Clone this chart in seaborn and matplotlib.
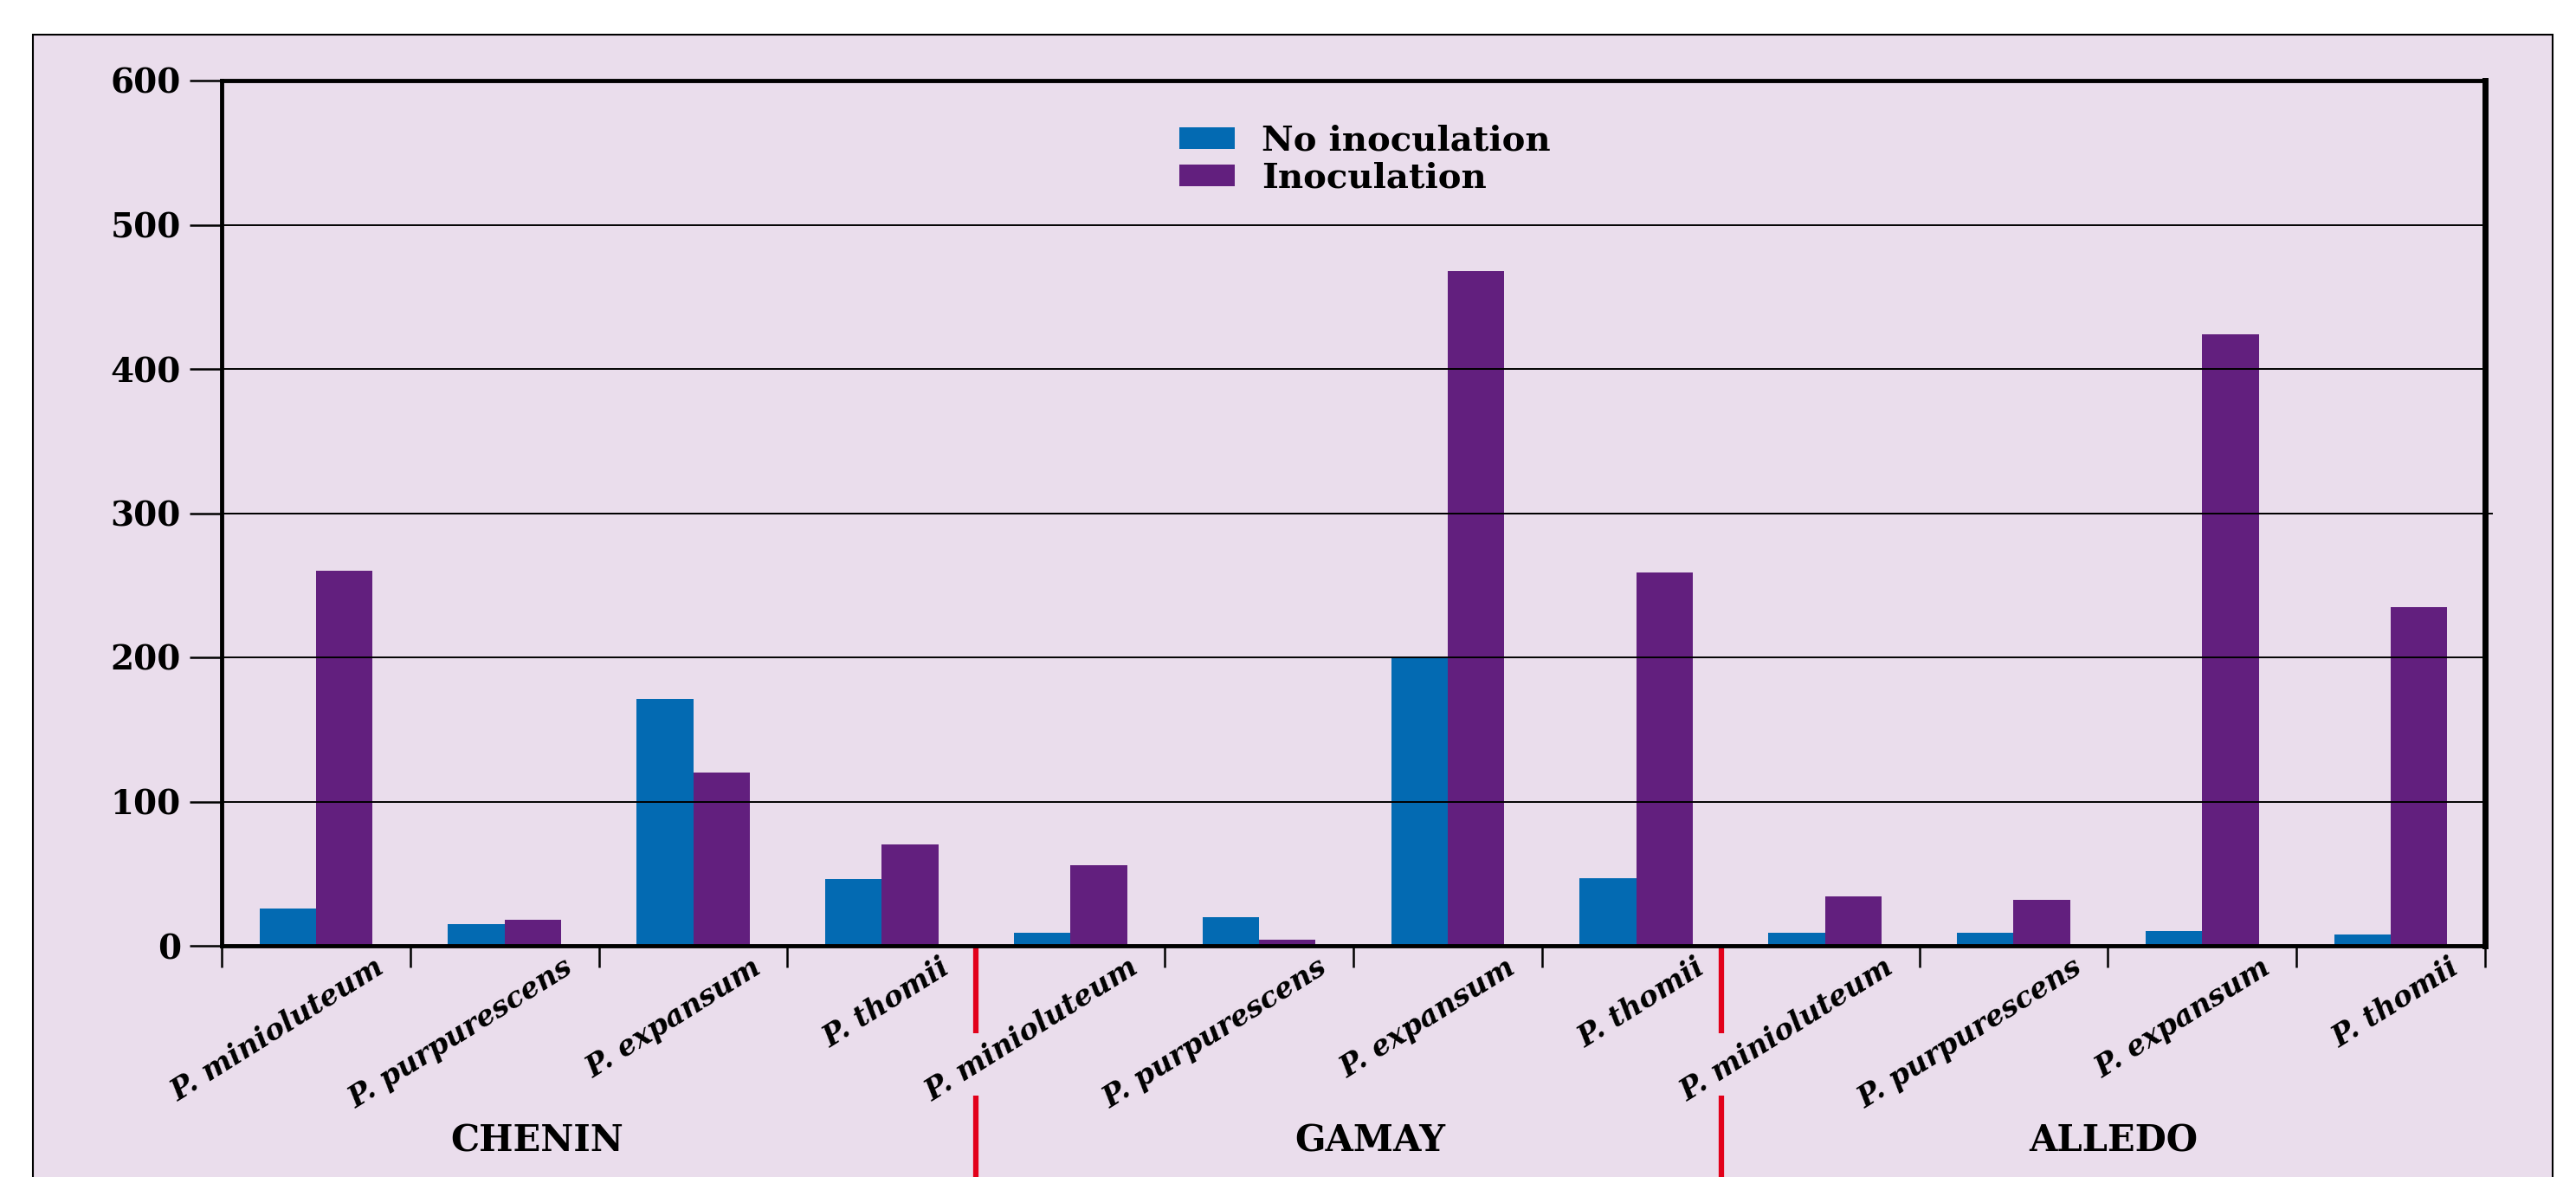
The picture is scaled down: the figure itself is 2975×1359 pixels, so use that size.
# Gráfico de barras: inoculação de Penicillium em três cultivares
import pandas as pd
import matplotlib.pyplot as plt
import seaborn as sns
from matplotlib.patches import Rectangle
from matplotlib.transforms import ScaledTranslation, blended_transform_factory

# --- dados ---
cultivares = ['CHENIN', 'GAMAY', 'ALLEDO']
especies = ['P. minioluteum', 'P. purpurescens', 'P. expansum', 'P. thomii']
tratamentos = ['No inoculation', 'Inoculation']
sem_inoculacao = [26, 15, 171, 46, 9, 20, 200, 47, 9, 9, 10, 8]
com_inoculacao = [260, 18, 120, 70, 56, 4, 468, 259, 34, 32, 424, 235]
yticks = [0, 100, 200, 300, 400, 500, 600]

cores = ['#036AB2', '#621F7E']
fundo = '#EADDEC'
vermelho = '#E2001A'
W, H = 2975, 1359

linhas = []
for g, cult in enumerate(cultivares):
    for s, esp in enumerate(especies):
        k = g * len(especies) + s
        chave = f'{cult}|{esp}'
        linhas.append((chave, cult, esp, tratamentos[0], sem_inoculacao[k]))
        linhas.append((chave, cult, esp, tratamentos[1], com_inoculacao[k]))
df = pd.DataFrame(linhas, columns=['chave', 'cultivar', 'especie', 'tratamento', 'valor'])
ordem = list(dict.fromkeys(df['chave']))
n = len(ordem)

plt.rcParams['font.family'] = ['DejaVu Serif']
plt.rcParams['font.weight'] = 'bold'

fig = plt.figure(figsize=(W / 100, H / 100), dpi=100)
fig.patch.set_facecolor('white')

# moldura externa lilás
moldura = Rectangle((38 / W, -0.02), (2948 - 38) / W, 1.02 - 40 / H,
                    transform=fig.transFigure, facecolor=fundo,
                    edgecolor='black', lw=1.5, zorder=0)
fig.add_artist(moldura)

ax = fig.add_axes([256 / W, 1 - 1092 / H, (2870 - 256) / W, (1092 - 93) / H])
ax.patch.set_alpha(0)

sns.barplot(data=df, x='chave', y='valor', hue='tratamento', order=ordem,
            hue_order=tratamentos, palette=cores, width=0.6, saturation=1,
            errorbar=None, linewidth=0, ax=ax)

ax.set_xlim(-0.5, n - 0.5)
ax.set_ylim(yticks[0], yticks[-1])
ax.set_xlabel('')
ax.set_ylabel('')

# linhas de grade por cima das barras
for v in yticks[1:-1]:
    ax.axhline(v, color='black', lw=1.4, zorder=3)
ax.axhline(300, xmin=0, xmax=1.003, color='black', lw=1.4, zorder=3, clip_on=False)

for lado in ['left', 'bottom', 'top']:
    ax.spines[lado].set_linewidth(3.5)
ax.spines['right'].set_linewidth(5)
for sp in ax.spines.values():
    sp.set_zorder(4)

# eixo y
ax.set_yticks(yticks)
ax.set_yticklabels([str(v) for v in yticks])
ax.tick_params(axis='y', length=27, width=1.8, pad=7, labelsize=28)

# eixo x: marcas nas divisas, rótulos nos centros
divisas = [i - 0.5 for i in range(n + 1) if i % len(especies) != 0 or i in (0, n)]
ax.set_xticks(divisas)
ax.set_xticklabels([''] * len(divisas))
ax.tick_params(axis='x', which='major', length=18, width=1.8)
ax.set_xticks(range(n), minor=True)
ax.set_xticklabels(especies * len(cultivares), minor=True)
ax.tick_params(axis='x', which='minor', length=0, labelsize=24, pad=0)
desloc = ScaledTranslation(0.76, -0.22, fig.dpi_scale_trans)
for lab in ax.get_xticklabels(minor=True):
    lab.set_rotation(32)
    lab.set_ha('right')
    lab.set_va('center')
    lab.set_rotation_mode('anchor')
    lab.set_fontstyle('italic')
    lab.set_fontweight('bold')
    lab.set_transform(lab.get_transform() + desloc)

# separadores vermelhos entre cultivares
trans = blended_transform_factory(ax.transData, ax.transAxes)
pos_sep = [3.5, 7.45]
for xs in pos_sep:
    ax.plot([xs, xs], [0, -0.101], transform=trans, color=vermelho, lw=4.5,
            clip_on=False, solid_capstyle='butt')
    ax.plot([xs, xs], [-0.173, -0.3], transform=trans, color=vermelho, lw=4.5,
            clip_on=False, solid_capstyle='butt')

# nomes das cultivares
pos_cult = [1.17, 5.59, 9.53]
for x, cult in zip(pos_cult, cultivares):
    ax.text(x, -0.226, cult, transform=trans, ha='center', va='center',
            fontsize=30, fontweight='bold')

# legenda
handles, labels = ax.get_legend_handles_labels()
ax.legend(handles, labels, loc='upper left',
          bbox_to_anchor=(1362 / W, 1 - 144 / H), bbox_transform=fig.transFigure,
          frameon=False, borderpad=0, borderaxespad=0, handlelength=1.6,
          handleheight=0.58, handletextpad=0.75, labelspacing=0.12,
          prop=dict(family='DejaVu Serif', weight='bold', size=29))

fig.savefig('out.png', dpi=100, facecolor='white')
